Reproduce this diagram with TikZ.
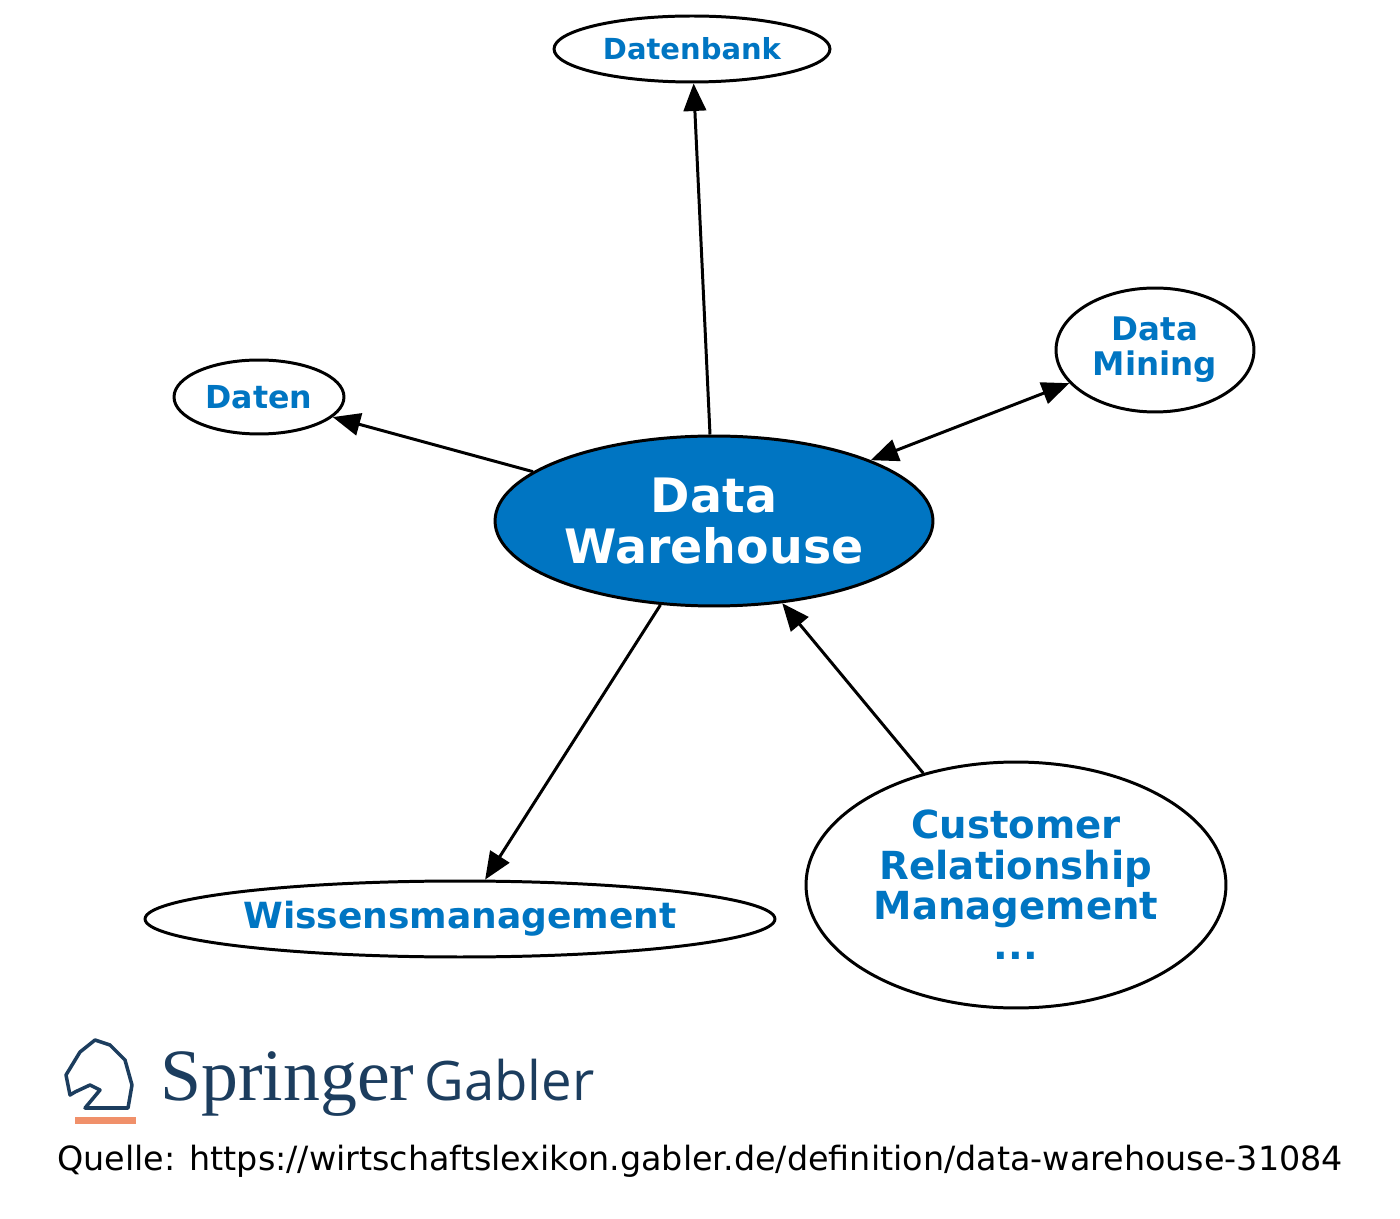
\documentclass[tikz,border=0pt]{standalone}
\usepackage{fontspec}
\setmainfont{DejaVu Sans}
\newfontfamily\logoserif{Liberation Serif}
\newfontfamily\logosans{Open Sans}
\usetikzlibrary{arrows.meta,shapes.geometric}
\definecolor{dwblue}{RGB}{0,117,194}
\definecolor{logoblue}{RGB}{28,61,94}
\definecolor{logoorange}{RGB}{240,144,106}
\tikzset{
  term/.style={ellipse, draw=black, line width=1.7pt, inner sep=0pt,
    text=dwblue, font=\bfseries, align=center},
  link/.style={line width=1.7pt, -{Triangle[length=0.55cm,width=0.45cm]}},
}
\begin{document}
\begin{tikzpicture}[x=0.02cm,y=-0.02cm]
\useasboundingbox (0,0) rectangle (1400,1219);
% begriffe
\node[term, fill=dwblue, text=white, font=\bfseries\fontsize{27}{29}\selectfont,
  minimum width=8.76cm, minimum height=3.4cm] (dw) at (714,521) {Data\\Warehouse};
\node[term, minimum width=5.52cm, minimum height=1.32cm, font=\bfseries\fontsize{16.5}{18}\selectfont] (bank) at (692,49) {Datenbank};
\node[term, minimum width=3.4cm, minimum height=1.48cm, font=\bfseries\fontsize{18}{20}\selectfont] (daten) at (259,397) {Daten};
\node[term, minimum width=3.96cm, minimum height=2.48cm, font=\bfseries\fontsize{18.5}{20}\selectfont] (mining) at (1155,350) {Data\\Mining};
\node[term, minimum width=12.6cm, minimum height=1.52cm, font=\bfseries\fontsize{20.5}{22}\selectfont] (wissen) at (460,919) {Wissensmanagement};
\node[term, minimum width=8.4cm, minimum height=4.92cm, font=\bfseries\fontsize{22}{23}\selectfont] (crm) at (1016,885) {Customer\\Relationship\\Management\\...};
% verbindungen
\draw[link] (dw.north) ++(-4,0) -- (bank);
\draw[link] (dw) -- (daten);
\draw[link, {Triangle[length=0.55cm,width=0.45cm]}-{Triangle[length=0.55cm,width=0.45cm]}] (dw) -- (mining);
\draw[link] (dw) -- (wissen);
\draw[link] (crm) -- (dw);
% logo
\fill[logoorange] (75,1117) rectangle (136,1124);
\draw[logoblue, line width=2pt, line join=round]
  (70,1095) -- (66,1075) -- (80,1052) -- (95,1040) -- (110,1045) -- (125,1060)
  -- (132,1085) -- (128,1108) -- (85,1108) -- (100,1090) -- (90,1085) -- (75,1092) -- cycle;
\node[anchor=base west, inner sep=0pt, text=logoblue, font=\logoserif\fontsize{42}{44}\selectfont] (springer) at (160,1100) {Springer};
\node[anchor=base west, inner sep=0pt, text=logoblue, font=\logosans\fontsize{31}{33}\selectfont] (gabler) at (424,1100) {Gabler};
\node[anchor=base, inner sep=0pt, font=\fontsize{19}{21}\selectfont] (quelle) at (700,1170)
  {Quelle: https://wirtschaftslexikon.gabler.de/definition/data-warehouse-31084};
\end{tikzpicture}
\end{document}
